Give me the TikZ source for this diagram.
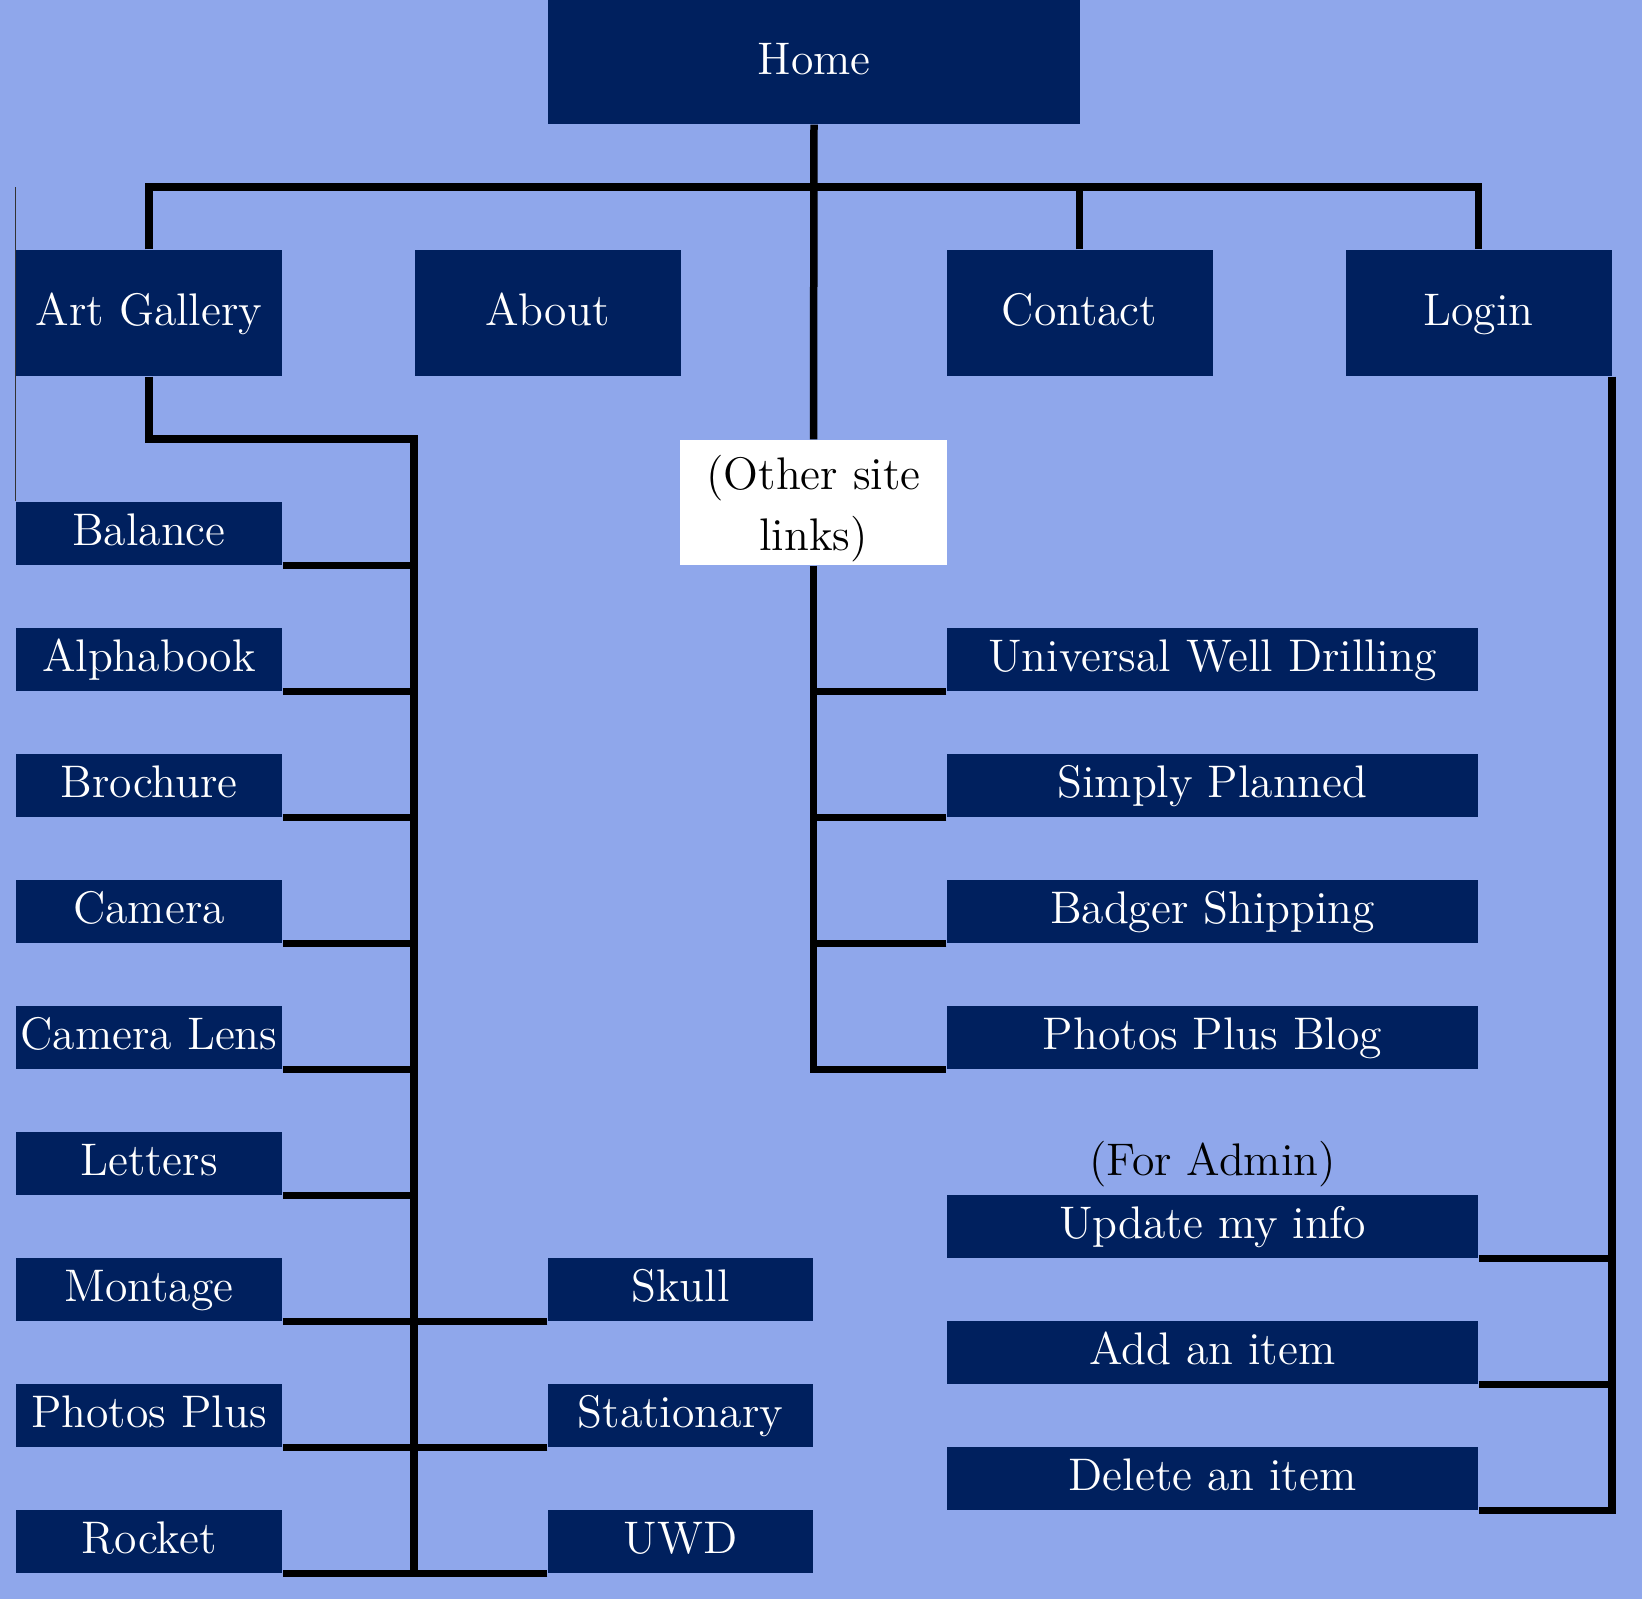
\documentclass[tikz,border=0pt]{standalone}
\usepackage{tikz}
\definecolor{sky}{RGB}{143,167,235}
\definecolor{navy}{RGB}{0,32,94}
\tikzstyle{box}=[rectangle,inner sep=0pt,minimum width=2.66cm,minimum height=.63cm]
\tikzstyle{page}=[box,fill=navy,text=white,text height=.3cm,text depth=.055cm]
\tikzstyle{menu}=[page,minimum height=1.26cm]
\tikzstyle{sub}=[page,minimum width=2.65cm]
\tikzstyle{site}=[page,minimum width=5.31cm]
\tikzstyle{line}=[black,line width=.075cm]

\begin{document}
\begin{tikzpicture}[node distance=1.26cm,
                    font=\fontsize{13}{17.3}\selectfont]

  \fill[sky] (0,0) rectangle (16.42,-15.99);

  \node[page,minimum width=5.32cm,minimum height=1.24cm] (home) at (8.14,-0.62) {Home};
  \node[menu] (gallery) at (1.49,-3.13) {Art Gallery};
  \node[menu] (about) at (5.475,-3.13) {About};
  \node[menu] (contact) at (10.795,-3.13) {Contact};
  \node[menu] (login) at (14.785,-3.13) {Login};
  \node[box,fill=white,align=center,minimum width=2.67cm,minimum height=1.25cm,
        text height=1cm,text depth=.04cm] (other) at (8.135,-5.025) {(Other site\\links)};

  \node[page] (balance) at (1.49,-5.335) {Balance};
  \node[page] (alphabook) [below of=balance] {Alphabook};
  \node[page] (brochure) [below of=alphabook] {Brochure};
  \node[page] (camera) [below of=brochure] {Camera};
  \node[page] (lens) [below of=camera] {Camera Lens};
  \node[page] (letters) [below of=lens] {Letters};
  \node[page] (montage) [below of=letters] {Montage};
  \node[page] (photos) [below of=montage] {Photos Plus};
  \node[page] (rocket) [below of=photos] {Rocket};

  \node[sub] (skull) at (6.805,-12.895) {Skull};
  \node[sub] (stationary) [below of=skull] {Stationary};
  \node[sub] (uwd) [below of=stationary] {UWD};

  \node[site] (wells) at (12.125,-6.595) {Universal Well Drilling};
  \node[site] (planned) [below of=wells] {Simply Planned};
  \node[site] (badger) [below of=planned] {Badger Shipping};
  \node[site] (blog) [below of=badger] {Photos Plus Blog};

  \node (admin) at (12.125,-11.64) {(For Admin)};
  \node[site] (update) at (12.125,-12.265) {Update my info};
  \node[site] (additem) [below of=update] {Add an item};
  \node[site] (delete) [below of=additem] {Delete an item};

  \coordinate (bus) at (8.14,-1.87);
  \coordinate (artbus) at (4.14,-4.39);

  \draw[line] (home.south) -- (other.north);
  \draw[line] (gallery.north) -- (gallery.north |- bus) -- (login.north |- bus) -- (login.north);
  \draw[line] (contact.north) -- (contact.north |- bus);

  \draw[line] (gallery.south) |- (artbus) -- (artbus |- rocket.south) -- (rocket.south east);
  \foreach \n in {balance,alphabook,brochure,camera,lens,letters,montage,photos}
    \draw[line] (\n.south east) -- (\n.south east -| artbus);
  \foreach \n in {skull,stationary,uwd}
    \draw[line] (\n.south west) -- (\n.south west -| artbus);

  \draw[line] (other.south) |- (blog.south west);
  \foreach \n in {wells,planned,badger}
    \draw[line] (\n.south west) -- (\n.south west -| other.south);

  \draw[line] (login.south east) |- (delete.south east);
  \foreach \n in {update,additem}
    \draw[line] (\n.south east) -- (\n.south east -| login.south east);

  \draw[black!80,line width=.4pt] (gallery.north west |- bus) -- (balance.north west);

\end{tikzpicture}
\end{document}
